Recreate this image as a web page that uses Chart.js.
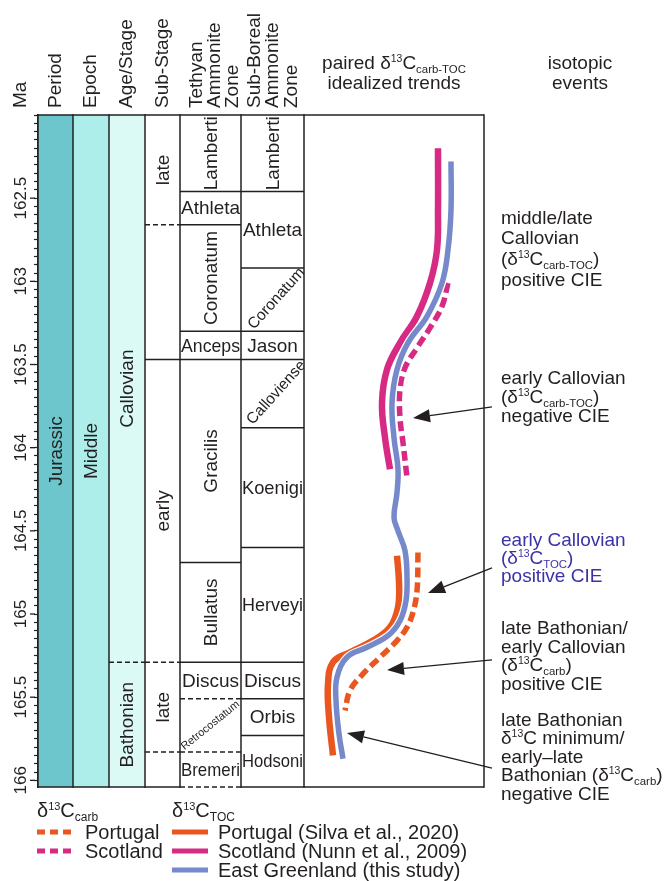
<!DOCTYPE html>
<html>
<head>
<meta charset="utf-8">
<script src="https://cdn.jsdelivr.net/npm/chart.js@4.4.1/dist/chart.umd.min.js"></script>
<style>
  html, body { margin: 0; background: #fff; }
  #wrap { width: 667px; height: 881px; }
</style>
</head>
<body>
<div id="wrap"><canvas id="strat" width="667" height="881"></canvas></div>
<script>
// age range of the column (Ma)
const MA_TOP = 162.0;
const MA_BASE = 166.04;

// stratigraphic units: names + base age (Ma)
const periodNames = ['Jurassic'];
const periodBase = [166.04];
const epochNames = ['Middle'];
const epochBase = [166.04];
const stageNames = ['Callovian', 'Bathonian'];
const stageBase = [165.29, 166.04];
const stageDashed = [true, false];
const subStageNames = ['late', '', 'early', 'late', ''];
const subStageBase = [162.66, 163.47, 165.29, 165.83, 166.04];
const subStageDashed = [true, false, true, true, false];
const tethyanNames = ['Lamberti', 'Athleta', 'Coronatum', 'Anceps', 'Gracilis', 'Bullatus', 'Discus', 'Retrocostatum', 'Bremeri'];
const tethyanBase = [162.46, 162.66, 163.30, 163.47, 164.69, 165.29, 165.51, 165.83, 166.04];
const tethyanDashed = [false, false, false, false, false, false, true, true, true];
const borealNames = ['Lamberti', 'Athleta', 'Coronatum', 'Jason', 'Calloviense', 'Koenigi', 'Herveyi', 'Discus', 'Orbis', 'Hodsoni'];
const borealBase = [162.46, 162.92, 163.30, 163.47, 163.88, 164.60, 165.29, 165.51, 165.73, 166.04];
const borealDashed = [false, false, false, false, false, false, false, false, false, false];

// idealized trends: age (Ma) + relative shift (arbitrary units)
const scotlandTocMa = [162.20, 162.57, 162.81, 163.01, 163.21, 163.37, 163.53, 163.73, 163.94, 164.13];
const scotlandTocShift = [400, 400, 399, 392, 379, 362, 349, 344, 347, 352];
const greenlandTocMa = [162.28, 162.57, 162.81, 163.01, 163.21, 163.37, 163.53, 163.73, 163.94, 164.13, 164.27, 164.42, 164.50, 164.62, 164.78, 164.92, 165.04, 165.13, 165.20, 165.26, 165.38, 165.52, 165.72, 165.87];
const greenlandTocShift = [413, 413, 410, 404, 389, 370, 359, 354, 356, 360, 359, 356, 360, 367, 369, 368, 362, 350, 329, 309, 299, 298, 301, 305];
const portugalTocMa = [164.65, 164.81, 164.96, 165.08, 165.16, 165.23, 165.29, 165.42, 165.62, 165.85];
const portugalTocShift = [359, 361, 360, 352, 335, 312, 295, 290, 291, 295];
const portugalCarbMa = [164.63, 164.86, 164.99, 165.08, 165.16, 165.26, 165.36, 165.46, 165.58];
const portugalCarbShift = [380, 379, 375, 369, 359, 342, 325, 312, 307];
const scotlandCarbMa = [163.01, 163.15, 163.28, 163.40, 163.52, 163.65, 163.82, 163.97, 164.18];
const scotlandCarbShift = [410, 404, 392, 379, 367, 362, 362, 365, 369];

// isotopic events: arrow tail / tip (shift, Ma)
const arrowTailShift = [454, 454, 454, 454];
const arrowTailMa = [163.755, 164.723, 165.276, 165.926];
const arrowTipShift = [375, 390, 349, 309];
const arrowTipMa = [163.822, 164.874, 165.337, 165.715];

const eventTexts = [
  ['middle/late', 'Callovian', '(δ^{13}C_{carb-TOC})', 'positive CIE'],
  ['early Callovian', '(δ^{13}C_{carb-TOC})', 'negative CIE'],
  ['early Callovian', '(δ^{13}C_{TOC})', 'positive CIE'],
  ['late Bathonian/', 'early Callovian', '(δ^{13}C_{carb})', 'positive CIE'],
  ['late Bathonian', 'δ^{13}C minimum/', 'early–late', 'Bathonian (δ^{13}C_{carb})', 'negative CIE']
];

// ---- layout / style ----
const FONT = '"Liberation Sans", Arial, sans-serif';
const INK = '#231f20';
const ORANGE = '#e9561f';
const MAGENTA = '#d62a84';
const BLUE = '#7589cb';
const colEdges = [0, 35, 71, 107, 142, 203, 266, 446];
const eventTop = [217, 377, 539, 627, 719];
const eventStep = [20.6, 19, 18, 18.7, 18.5];
const eventColor = [INK, INK, '#3b32a8', INK, INK];

const columns = [
  { names: periodNames, base: periodBase, dashed: [false], fill: '#6cc6cb', mode: () => 'v' },
  { names: epochNames, base: epochBase, dashed: [false], fill: '#aeeeea', mode: () => 'v' },
  { names: stageNames, base: stageBase, dashed: stageDashed, fill: '#dbfaf5', mode: () => 'v' },
  { names: subStageNames, base: subStageBase, dashed: subStageDashed, fill: null, mode: () => 'v' },
  { names: tethyanNames, base: tethyanBase, dashed: tethyanDashed, fill: null,
    mode: n => ['Lamberti', 'Coronatum', 'Gracilis', 'Bullatus'].includes(n) ? 'v' : n === 'Retrocostatum' ? 'd' : 'h' },
  { names: borealNames, base: borealBase, dashed: borealDashed, fill: null,
    mode: n => n === 'Lamberti' ? 'v' : (n === 'Coronatum' || n === 'Calloviense') ? 'd' : 'h' }
];

function parseRich(str) {
  const segs = [];
  let buf = '', i = 0;
  while (i < str.length) {
    const c = str[i];
    if ((c === '^' || c === '_') && str[i + 1] === '{') {
      if (buf) segs.push({ t: buf, k: 'n' });
      buf = '';
      const end = str.indexOf('}', i);
      segs.push({ t: str.slice(i + 2, end), k: c === '^' ? 'sup' : 'sub' });
      i = end + 1;
    } else { buf += c; i++; }
  }
  if (buf) segs.push({ t: buf, k: 'n' });
  return segs;
}

// draws text with ^{sup} and _{sub}; y = middle of the line
function rich(ctx, str, x, y, size, align, color) {
  const segs = parseRich(str);
  const sz = { n: size, sup: size * 0.55, sub: size * 0.6 };
  let w = 0;
  segs.forEach(s => {
    ctx.font = `${sz[s.k]}px ${FONT}`;
    s.w = ctx.measureText(s.t).width;
    w += s.w;
  });
  let cx = align === 'center' ? x - w / 2 : align === 'right' ? x - w : x;
  const base = y + size * 0.36;
  ctx.textAlign = 'left';
  ctx.textBaseline = 'alphabetic';
  ctx.fillStyle = color;
  segs.forEach(s => {
    ctx.font = `${sz[s.k]}px ${FONT}`;
    const by = s.k === 'sup' ? base - size * 0.38 : s.k === 'sub' ? base + size * 0.2 : base;
    ctx.fillText(s.t, cx, by);
    cx += s.w;
  });
}

function hline(ctx, x0, x1, y, dashed) {
  ctx.setLineDash(dashed ? [5, 3] : []);
  ctx.beginPath();
  ctx.moveTo(x0, y);
  ctx.lineTo(x1, y);
  ctx.stroke();
}

const stratPlugin = {
  id: 'strat',
  beforeDatasetsDraw(chart) {
    const { ctx, scales: { x, y } } = chart;
    const top = y.getPixelForValue(MA_TOP);
    const bot = y.getPixelForValue(MA_BASE);
    ctx.save();

    // fills
    columns.forEach((col, i) => {
      if (!col.fill) return;
      const x0 = x.getPixelForValue(colEdges[i]), x1 = x.getPixelForValue(colEdges[i + 1]);
      ctx.fillStyle = col.fill;
      ctx.fillRect(x0, top, x1 - x0, bot - top);
    });

    // unit labels
    columns.forEach((col, i) => {
      const x0 = x.getPixelForValue(colEdges[i]), x1 = x.getPixelForValue(colEdges[i + 1]);
      let prev = MA_TOP;
      col.names.forEach((name, j) => {
        const ya = y.getPixelForValue(prev), yb = y.getPixelForValue(col.base[j]);
        prev = col.base[j];
        if (!name) return;
        const cx = (x0 + x1) / 2, cy = (ya + yb) / 2;
        const mode = col.mode(name);
        ctx.save();
        ctx.fillStyle = INK;
        ctx.textAlign = 'center';
        ctx.textBaseline = 'middle';
        if (mode === 'v') {
          ctx.font = `19px ${FONT}`;
          ctx.translate(cx + 1, cy);
          ctx.rotate(-Math.PI / 2);
          ctx.fillText(name, 0, 0, yb - ya - 2);
        } else if (mode === 'h') {
          ctx.font = `19px ${FONT}`;
          ctx.fillText(name, cx, cy + 1, x1 - x0 - 2);
        } else {
          ctx.beginPath();
          ctx.rect(x0, ya, x1 - x0, yb - ya);
          ctx.clip();
          const small = name === 'Retrocostatum';
          ctx.font = `${small ? 11 : 15.5}px ${FONT}`;
          ctx.translate(cx + (small ? 0 : 4), cy + (small ? 0 : -1));
          ctx.rotate(-(small ? 39 : 48) * Math.PI / 180);
          ctx.fillText(name, 0, 0);
        }
        ctx.restore();
      });
    });

    // boundaries
    ctx.strokeStyle = INK;
    ctx.lineWidth = 1.5;
    columns.forEach((col, i) => {
      const x0 = x.getPixelForValue(colEdges[i]), x1 = x.getPixelForValue(colEdges[i + 1]);
      col.base.forEach((b, j) => hline(ctx, x0, x1, y.getPixelForValue(b), col.dashed[j]));
    });
    hline(ctx, x.getPixelForValue(colEdges[6]), x.getPixelForValue(colEdges[7]), bot, false);
    hline(ctx, x.getPixelForValue(colEdges[0]), x.getPixelForValue(colEdges[7]), top, false);
    ctx.setLineDash([]);
    colEdges.forEach(e => {
      const px = x.getPixelForValue(e);
      ctx.beginPath();
      ctx.moveTo(px, top - 0.75);
      ctx.lineTo(px, bot + 0.75);
      ctx.stroke();
    });

    // longer major ticks
    ctx.lineWidth = 1.3;
    for (let v = 162.5; v <= MA_BASE; v += 0.5) {
      const py = y.getPixelForValue(v);
      ctx.beginPath();
      ctx.moveTo(x.left - 3, py);
      ctx.lineTo(x.left - 8, py);
      ctx.stroke();
    }

    // column headers (rotated)
    const headers = [['Ma', 21], ['Period', 56], ['Epoch', 91], ['Age/Stage', 127], ['Sub-Stage', 163],
      ['Tethyan', 197], ['Ammonite', 215], ['Zone', 233], ['Sub-Boreal', 255], ['Ammonite', 273], ['Zone', 292]];
    ctx.fillStyle = INK;
    ctx.font = `19px ${FONT}`;
    ctx.textAlign = 'left';
    ctx.textBaseline = 'middle';
    headers.forEach(([t, hx]) => {
      ctx.save();
      ctx.translate(hx, 108);
      ctx.rotate(-Math.PI / 2);
      ctx.fillText(t, 0, 0);
      ctx.restore();
    });
    const tc = (x.getPixelForValue(colEdges[6]) + x.getPixelForValue(colEdges[7])) / 2;
    rich(ctx, 'paired δ^{13}C_{carb-TOC}', tc, 62, 19, 'center', INK);
    rich(ctx, 'idealized trends', tc, 82, 19, 'center', INK);
    rich(ctx, 'isotopic', 580, 62, 19, 'center', INK);
    rich(ctx, 'events', 580, 82, 19, 'center', INK);
    ctx.restore();
  },
  afterDatasetsDraw(chart) {
    const { ctx, scales: { x, y } } = chart;
    ctx.save();
    // arrows
    ctx.strokeStyle = INK;
    ctx.fillStyle = INK;
    ctx.lineWidth = 1.3;
    arrowTipMa.forEach((m, i) => {
      const x0 = x.getPixelForValue(arrowTailShift[i]), y0 = y.getPixelForValue(arrowTailMa[i]);
      const x1 = x.getPixelForValue(arrowTipShift[i]), y1 = y.getPixelForValue(m);
      const a = Math.atan2(y1 - y0, x1 - x0);
      const L = 17, H = 6.5;
      const bx = x1 - L * Math.cos(a), by = y1 - L * Math.sin(a);
      ctx.beginPath();
      ctx.moveTo(x0, y0);
      ctx.lineTo(bx, by);
      ctx.stroke();
      ctx.beginPath();
      ctx.moveTo(x1, y1);
      ctx.lineTo(bx + H * Math.sin(a), by - H * Math.cos(a));
      ctx.lineTo(bx - H * Math.sin(a), by + H * Math.cos(a));
      ctx.closePath();
      ctx.fill();
    });

    // event texts
    eventTexts.forEach((lines, i) => {
      lines.forEach((t, k) => rich(ctx, t, 501, eventTop[i] + k * eventStep[i], 19, 'left', eventColor[i]));
    });

    // legend
    rich(ctx, 'δ^{13}C_{carb}', 37, 810, 20, 'left', INK);
    rich(ctx, 'δ^{13}C_{TOC}', 172, 810, 20, 'left', INK);
    const sample = (x0, x1, yy, color, dashed) => {
      ctx.strokeStyle = color;
      ctx.lineWidth = 5;
      ctx.setLineDash(dashed ? [8, 5] : []);
      ctx.beginPath();
      ctx.moveTo(x0, yy);
      ctx.lineTo(x1, yy);
      ctx.stroke();
    };
    const rows = [832, 851, 870];
    sample(37, 73, rows[0], ORANGE, true);
    sample(37, 73, rows[1], MAGENTA, true);
    sample(172, 208, rows[0], ORANGE, false);
    sample(172, 208, rows[1], MAGENTA, false);
    sample(172, 208, rows[2], BLUE, false);
    ctx.setLineDash([]);
    rich(ctx, 'Portugal', 85, rows[0], 20, 'left', INK);
    rich(ctx, 'Scotland', 85, rows[1], 20, 'left', INK);
    rich(ctx, 'Portugal (Silva et al., 2020)', 218, rows[0], 20, 'left', INK);
    rich(ctx, 'Scotland (Nunn et al., 2009)', 218, rows[1], 20, 'left', INK);
    rich(ctx, 'East Greenland (this study)', 218, rows[2], 20, 'left', INK);
    ctx.restore();
  }
};

const pts = (ma, sh) => ma.map((m, i) => ({ x: sh[i], y: m }));

new Chart(document.getElementById('strat'), {
  type: 'scatter',
  data: {
    datasets: [
      { label: 'East Greenland (this study)', data: pts(greenlandTocMa, greenlandTocShift), borderColor: BLUE, borderWidth: 5.5, order: 0 },
      { label: 'halo', data: pts(greenlandTocMa, greenlandTocShift), borderColor: '#ffffff', borderWidth: 8, order: 1 },
      { label: 'Scotland (Nunn et al., 2009)', data: pts(scotlandTocMa, scotlandTocShift), borderColor: MAGENTA, borderWidth: 6.5, order: 2 },
      { label: 'Portugal (Silva et al., 2020)', data: pts(portugalTocMa, portugalTocShift), borderColor: ORANGE, borderWidth: 6.5, order: 2 },
      { label: 'Scotland carb', data: pts(scotlandCarbMa, scotlandCarbShift), borderColor: MAGENTA, borderWidth: 5.5, borderDash: [10, 5], order: 3 },
      { label: 'Portugal carb', data: pts(portugalCarbMa, portugalCarbShift), borderColor: ORANGE, borderWidth: 5.5, borderDash: [10, 5], order: 3 }
    ].map(d => Object.assign({ showLine: true, pointRadius: 0, tension: 0.4, borderCapStyle: 'butt', fill: false }, d))
  },
  options: {
    responsive: false,
    animation: false,
    layout: { padding: { top: 115, left: 0, right: 183, bottom: 94 } },
    plugins: { legend: { display: false }, tooltip: { enabled: false } },
    scales: {
      x: { type: 'linear', min: colEdges[0], max: colEdges[colEdges.length - 1], display: false },
      y: {
        type: 'linear', position: 'left', reverse: true, min: MA_TOP, max: MA_BASE,
        afterFit: s => { s.width = 38; },
        border: { display: true, color: INK, width: 1.5 },
        grid: { drawOnChartArea: false, drawTicks: true, tickLength: 4, tickColor: INK, tickWidth: 1.2 },
        ticks: {
          stepSize: 0.05, autoSkip: false, includeBounds: false,
          minRotation: 90, maxRotation: 90, crossAlign: 'center', padding: -9,
          color: INK, font: { family: FONT, size: 17 },
          callback: v => {
            const h = v * 2;
            return Math.abs(h - Math.round(h)) < 1e-6 && v > 162.2 ? String(+v.toFixed(1)) : '';
          }
        }
      }
    }
  },
  plugins: [stratPlugin]
});
</script>
</body>
</html>
